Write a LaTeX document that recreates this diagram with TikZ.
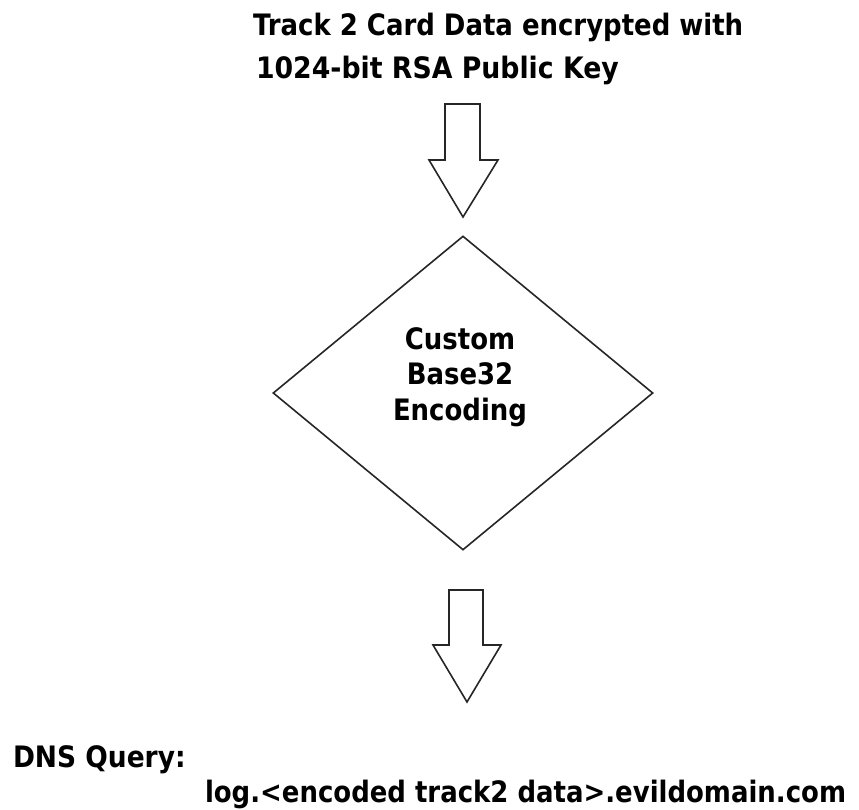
\documentclass[tikz,border=0pt]{standalone}
\usepackage{fontspec}
\setmainfont{DejaVu Sans}[FakeStretch=0.88]
\usetikzlibrary{shapes.geometric}
\tikzset{
  lbl/.style={inner sep=0pt, outer sep=0pt, font=\fontsize{29.5}{35.5}\selectfont\bfseries, text=black},
  shapeline/.style={draw=black!85, line width=1.6pt, line join=miter},
  blockarrow/.style={shapeline, fill=white},
}
\begin{document}
\begin{tikzpicture}[x=1pt,y=-1pt]
\useasboundingbox (0,0) rectangle (859,809);
% top label
\node[lbl, anchor=base west] (t1) at (253,35) {Track 2 Card Data encrypted with};
\node[lbl, anchor=base west, xscale=1.03] (t2) at (256,78) {1024-bit RSA Public Key};
% first block arrow
\draw[blockarrow] (445,104) -- (480,104) -- (480,160) -- (498,160) -- (463,217) -- (429,160) -- (445,160) -- cycle;
% diamond
\node[shape=diamond, shapeline, minimum width=380pt, minimum height=314pt, inner sep=0pt] (d) at (463,393) {};
\node[lbl, anchor=base] (c1) at (460,349) {Custom};
\node[lbl, anchor=base] (c2) at (460,384) {Base32};
\node[lbl, anchor=base] (c3) at (460,420) {Encoding};
% second block arrow
\draw[blockarrow] (449,590) -- (483,590) -- (483,645) -- (501,645) -- (467,702) -- (433,645) -- (449,645) -- cycle;
% bottom labels
\node[lbl, anchor=base west, xscale=1.02] (q1) at (13,767) {DNS Query:};
\node[lbl, anchor=base west] (q2) at (205,802) {log.<encoded track2 data>.evildomain.com};
\end{tikzpicture}
\end{document}
